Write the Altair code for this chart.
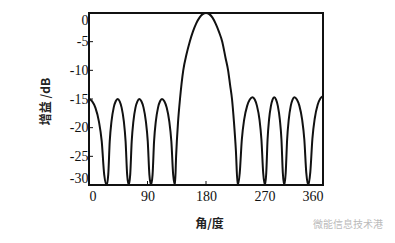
import altair as alt
import pandas as pd

# Angle (deg) and gain (dB), lobe by lobe
lobe0_angle = [0, 4.9, 9.8, 15.2, 19.6, 23.4, 27.2]
lobe0_gain = [-15, -15.4, -16.5, -18.9, -22.4, -28.2, -30]
lobe1_angle = [29.6, 31.9, 34.6, 38.0, 41.1, 44.1, 47.2, 50.2, 53.6, 56.3, 58.7, 61.1]
lobe1_gain = [-28.2, -22.4, -18.9, -16.5, -15.4, -15, -15.4, -16.5, -18.9, -22.4, -28.2, -30]
lobe2_angle = [63.4, 65.7, 68.3, 71.5, 74.5, 77.4, 80.6, 83.9, 87.5, 90.4, 92.9, 95.4]
lobe2_gain = [-28.2, -22.4, -18.9, -16.5, -15.4, -15, -15.4, -16.5, -18.9, -22.4, -28.2, -30]
lobe3_angle = [97.8, 100.1, 102.8, 106.2, 109.3, 112.3, 115.9, 119.5, 123.5, 126.7, 129.5, 132.3]
lobe3_gain = [-28.2, -22.4, -18.9, -16.5, -15.4, -15, -15.4, -16.5, -18.9, -22.4, -28.2, -30]
main_angle = [134, 137, 140, 145, 150, 155, 160, 165, 170, 175, 180, 185, 190, 195,
              200, 205, 210, 214, 217, 220, 223, 226, 228.7]
main_gain = [-25, -19, -15, -10, -7.2, -5, -3.2, -1.8, -0.8, -0.2, 0, -0.2, -0.8, -1.9,
             -3.3, -5, -7.8, -10, -12.5, -15, -19, -24, -30]
lobe5_angle = [231.9, 235.1, 238.7, 243.3, 247.4, 251.5, 255.0, 258.4, 262.3, 265.3, 268.0, 270.7]
lobe5_gain = [-27.9, -22.1, -18.6, -16.2, -15.1, -14.7, -15.1, -16.2, -18.6, -22.1, -27.9, -30]
lobe6_angle = [272.7, 274.7, 277.0, 279.9, 282.4, 285.0, 287.8, 290.5, 293.6, 296.1, 298.2, 300.4]
lobe6_gain = [-27.9, -22.1, -18.6, -16.2, -15.1, -14.7, -15.1, -16.2, -18.6, -22.1, -27.9, -30]
lobe7_angle = [302.6, 304.8, 307.3, 310.4, 313.2, 316.0, 319.8, 323.7, 327.9, 331.3, 334.3, 337.3]
lobe7_gain = [-27.9, -22.1, -18.6, -16.2, -15.1, -14.7, -15.1, -16.2, -18.6, -22.1, -27.9, -30]
lobe8_angle = [340.5, 343.7, 347.3, 351.8, 355.9, 360]
lobe8_gain = [-27.7, -21.9, -18.4, -16.0, -14.9, -14.5]

x_ticks = [0, 90, 180, 270, 360]
y_ticks = [0, -5, -10, -15, -20, -25, -30]

angles = (lobe0_angle + lobe1_angle + lobe2_angle + lobe3_angle + main_angle
          + lobe5_angle + lobe6_angle + lobe7_angle + lobe8_angle)
gains = (lobe0_gain + lobe1_gain + lobe2_gain + lobe3_gain + main_gain
         + lobe5_gain + lobe6_gain + lobe7_gain + lobe8_gain)
df = pd.DataFrame({"angle": angles, "gain": gains})

FONT = "Liberation Serif"

xscale = alt.Scale(domain=[0, 360], nice=False, zero=False)
yscale = alt.Scale(domain=[-30, 0], nice=False, zero=False)

xax = alt.Axis(values=x_ticks, title="角/度", ticks=False, grid=False, domain=False,
               labelFlush=True, labelOverlap=False, labelPadding=4, labelFont=FONT,
               labelFontSize=14, labelColor="#111111",
               titleFont="Noto Sans CJK SC", titleFontSize=12,
               titleFontWeight="bold", titleColor="#222222",
               titleX=120, titleY=38, titleBaseline="middle")
yax = alt.Axis(values=y_ticks, title="增益 /dB", ticks=False, grid=False, domain=False,
               labelFlush=True, labelOverlap=False, labelPadding=1, labelFont=FONT,
               labelFontSize=14, labelColor="#111111",
               labelExpr="toString(datum.value)",
               titleFont="Noto Sans CJK SC", titleFontSize=12,
               titleFontWeight="bold", titleColor="#222222",
               titleAngle=270, titleX=-44, titleY=88, titleAlign="center",
               titleBaseline="middle")

line = alt.Chart(df).mark_line(color="#111111", strokeWidth=2, interpolate="monotone").encode(
    x=alt.X("angle:Q", scale=xscale, axis=xax),
    y=alt.Y("gain:Q", scale=yscale, axis=yax),
)

xt = alt.Chart(pd.DataFrame({"t": x_ticks})).mark_rule(color="#111111", strokeWidth=1).encode(
    x=alt.X("t:Q", scale=xscale, axis=xax), y=alt.value(172), y2=alt.value(168))
yt = alt.Chart(pd.DataFrame({"t": y_ticks})).mark_rule(color="#111111", strokeWidth=1).encode(
    y=alt.Y("t:Q", scale=yscale, axis=yax), x=alt.value(0), x2=alt.value(4))

wm = alt.Chart(pd.DataFrame({"s": ["微能信息技术港"]})).mark_text(
    font="Noto Sans CJK SC", fontSize=10, color="#bbbbbb", align="left", baseline="middle"
).encode(text="s:N", x=alt.value(224), y=alt.value(212))

chart = alt.layer(line, xt, yt, wm).properties(
    width=234, height=172,
    autosize=alt.AutoSizeParams(type="none"),
    padding={"left": 89, "top": 13, "right": 72, "bottom": 58},
    background="white",
).configure_view(stroke="#111111", strokeWidth=2).configure_axis(labelOverlap=False)

chart.save("out.html", embed_options={"renderer": "svg", "actions": False})
